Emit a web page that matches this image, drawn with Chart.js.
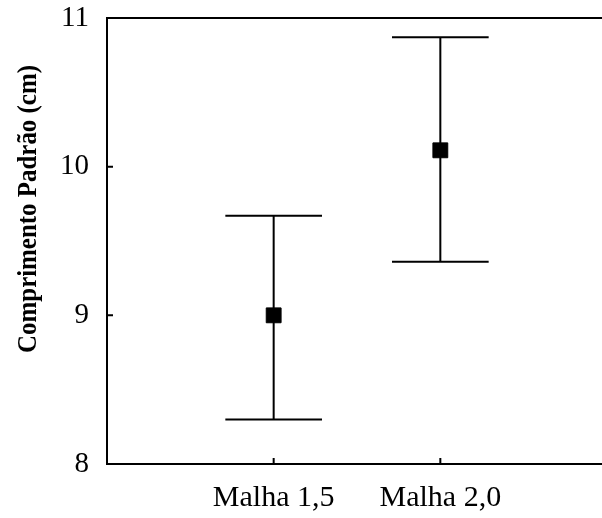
<!DOCTYPE html>
<html>
<head>
<meta charset="utf-8">
<script src="https://cdn.jsdelivr.net/npm/chart.js@4"></script>
<style>
  body { margin: 0; background: #fff; }
</style>
</head>
<body>
<canvas id="meshChart" width="602" height="518"></canvas>
<script>
const categories = ['Malha 1,5', 'Malha 2,0'];
const positions = [1, 2];
const means = [9.0, 10.11];
const upper = [9.67, 10.87];
const lower = [8.30, 9.36];
const yTicks = [8, 9, 10, 11];
const yTitle = 'Comprimento Padrão (cm)';

const serif = "'Times New Roman', 'Liberation Serif', serif";

// error bars, inner tick marks, top border and rotated title
const decorations = {
  id: 'decorations',
  afterDatasetsDraw(chart) {
    const ctx = chart.ctx;
    const x = chart.scales.x;
    const y = chart.scales.y;
    const area = chart.chartArea;
    ctx.save();
    ctx.strokeStyle = '#000';
    ctx.lineWidth = 2;

    positions.forEach((p, i) => {
      const px = x.getPixelForValue(p);
      const top = y.getPixelForValue(upper[i]);
      const bot = y.getPixelForValue(lower[i]);
      const capL = x.getPixelForValue(p - 0.29);
      const capR = x.getPixelForValue(p + 0.29);
      ctx.beginPath();
      ctx.moveTo(px, top); ctx.lineTo(px, bot);
      ctx.moveTo(capL, top); ctx.lineTo(capR, top);
      ctx.moveTo(capL, bot); ctx.lineTo(capR, bot);
      ctx.stroke();
    });

    ctx.beginPath();
    yTicks.slice(1, -1).forEach(v => {
      const py = y.getPixelForValue(v);
      ctx.moveTo(area.left, py); ctx.lineTo(area.left + 6, py);
    });
    positions.forEach(p => {
      const px = x.getPixelForValue(p);
      ctx.moveTo(px, area.bottom); ctx.lineTo(px, area.bottom - 6);
    });
    ctx.moveTo(area.left - 1, area.top); ctx.lineTo(area.right, area.top);
    ctx.stroke();

    // the title is slightly condensed in the original
    ctx.translate(36, 209);
    ctx.rotate(-Math.PI / 2);
    ctx.scale(0.89, 1);
    ctx.fillStyle = '#000';
    ctx.font = 'bold 28px ' + serif;
    ctx.textAlign = 'center';
    ctx.textBaseline = 'alphabetic';
    ctx.fillText(yTitle, 0, 0);
    ctx.restore();
  }
};

new Chart(document.getElementById('meshChart'), {
  type: 'scatter',

  data: {
    datasets: [{
      data: positions.map((p, i) => ({ x: p, y: means[i] })),
      pointStyle: 'rect',
      pointRadius: 10.5,
      pointHoverRadius: 10.5,
      backgroundColor: '#000',
      borderColor: '#000',
      borderWidth: 1
    }]
  },

  options: {
    responsive: false,
    animation: false,
    layout: {
      autoPadding: false,
      padding: { top: 18, right: 0, left: 0, bottom: 0 }
    },

    scales: {
      x: {
        type: 'linear',
        min: 0,
        max: 2.97,
        afterFit: s => {
          s.height = 54;
          s.paddingLeft = 0;
          s.paddingRight = 0;
        },
        afterBuildTicks: s => { s.ticks = positions.map(v => ({ value: v })); },
        grid: { display: false, drawTicks: false },
        border: { color: '#000', width: 2 },
        ticks: {
          padding: 16,
          color: '#000',
          font: { family: serif, size: 30 },
          callback: v => categories[positions.indexOf(v)]
        }
      },
      y: {
        min: 8,
        max: 11,
        afterFit: s => {
          s.width = 107;
          s.paddingTop = 0;
          s.paddingBottom = 0;
        },
        afterBuildTicks: s => { s.ticks = yTicks.map(v => ({ value: v })); },
        grid: { display: false, drawTicks: false },
        border: { color: '#000', width: 2 },
        ticks: {
          padding: 18,
          color: '#000',
          font: { family: serif, size: 29 }
        }
      }
    },

    plugins: {
      legend: { display: false },
      tooltip: { enabled: false }
    }
  },

  plugins: [decorations]
});
</script>
</body>
</html>
